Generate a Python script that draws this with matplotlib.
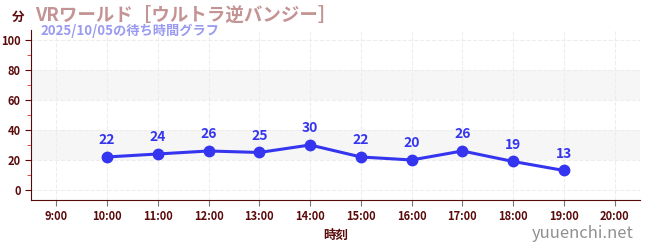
import matplotlib
matplotlib.use("Agg")
import matplotlib.pyplot as plt
from matplotlib.ticker import MultipleLocator

plt.rcParams["font.family"] = ["Noto Sans CJK JP", "DejaVu Sans"]

# データ
hours = [10, 11, 12, 13, 14, 15, 16, 17, 18, 19]
waits = [22, 24, 26, 25, 30, 22, 20, 26, 19, 13]
xticks = list(range(9, 21))
xticklabels = [f"{h}:00" for h in xticks]
yticks = [0, 20, 40, 60, 80, 100]

C_LINE = "#3535f0"
C_AXIS = "#5a0a0a"
C_TITLE = "#c49494"
C_SUB = "#9a9af0"

fig = plt.figure(figsize=(6.5, 2.5), dpi=100)
ax = fig.add_axes([31 / 650, 50 / 250, 609 / 650, 170 / 250])

ax.set_xlim(8.5, 20.5)
ax.set_ylim(-6.7, 106.7)

for lo, hi in [(20, 40), (60, 80)]:
    ax.axhspan(lo, hi, color="#f6f6f6", zorder=0, linewidth=0)

ax.plot(hours, waits, "-o", color=C_LINE, linewidth=2.2, markersize=7.5, zorder=3)
for x, y in zip(hours, waits):
    ax.annotate(str(y), (x, y), xytext=(0, 7), textcoords="offset points",
                ha="center", va="bottom", color=C_LINE, fontsize=10,
                fontweight="bold")

ax.set_xticks(xticks)
ax.set_xticklabels(xticklabels)
ax.set_yticks(yticks)
ax.yaxis.set_minor_locator(MultipleLocator(10))
ax.tick_params(axis="both", colors=C_AXIS, labelsize=8, length=4)
ax.tick_params(axis="y", which="minor", colors="#e03030", length=3)
for lab in ax.get_xticklabels() + ax.get_yticklabels():
    lab.set_fontweight("bold")
ax.tick_params(axis="x", colors="#777777", labelcolor=C_AXIS)

ax.grid(True, which="major", color="#ededed", linestyle="--", linewidth=0.8)
ax.spines[["top", "right"]].set_visible(False)
ax.spines["left"].set_color(C_AXIS)
ax.spines["bottom"].set_color(C_AXIS)

ax.set_xlabel("時刻", color=C_AXIS, fontsize=9, fontweight="bold")

fig.text(12 / 650, 1 - 17 / 250, "分", color=C_AXIS, fontsize=9,
         fontweight="bold", va="center")
fig.text(35 / 650, 1 - 15 / 250, "VRワールド［ウルトラ逆バンジー］", color=C_TITLE,
         fontsize=13.3, fontweight="bold", va="center")
fig.text(40 / 650, 1 - 31 / 250, "2025/10/05の待ち時間グラフ", color=C_SUB,
         fontsize=9.5, fontweight="bold", va="center")
fig.text(634 / 650, 1 - 234 / 250, "yuuenchi.net", color="#909090",
         fontsize=12, ha="right", va="center")

fig.savefig("out.png", dpi=100)
